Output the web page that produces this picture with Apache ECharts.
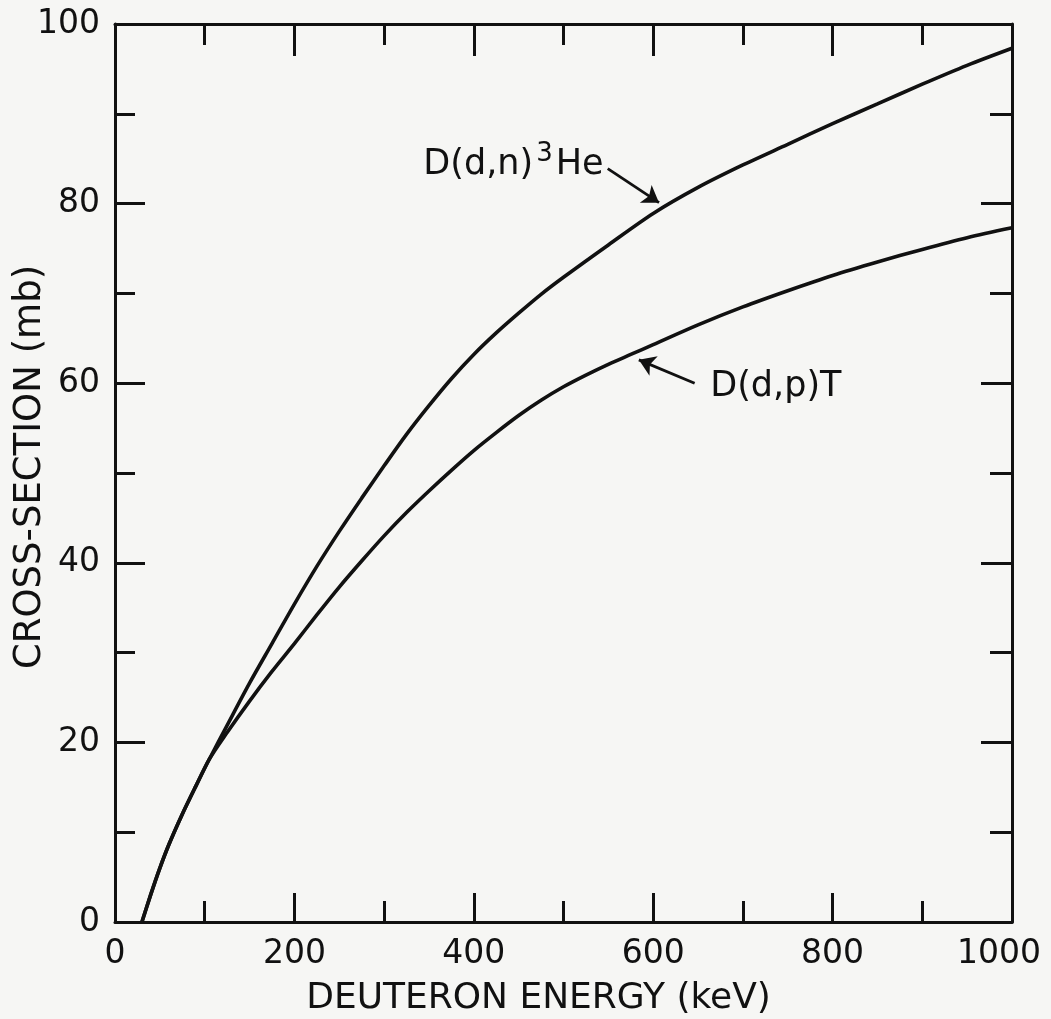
<!DOCTYPE html>
<html>
<head>
<meta charset="utf-8">
<script src="https://cdn.jsdelivr.net/npm/echarts@6/dist/echarts.min.js"></script>
<style>
html,body{margin:0;padding:0;background:#f6f6f4;}
#chart{width:1051px;height:1019px;}
</style>
</head>
<body>
<div id="chart"></div>
<script>
// Deuteron energy (keV) and cross sections (mb)
var energyDN = [30,40,50,60,75,90,105,125,150,175,200,225,250,275,300,325,350,375,400,425,450,475,500,550,600,650,700,750,800,850,900,950,1000];
var sigmaDN  = [0,3.1,6.0,8.6,12.0,15.1,18.1,21.9,26.6,31.0,35.4,39.6,43.5,47.2,50.8,54.3,57.5,60.5,63.2,65.6,67.8,69.9,71.8,75.4,78.9,81.8,84.3,86.6,88.9,91.1,93.3,95.4,97.3];

var energyDP = [30,40,50,60,75,90,105,125,150,175,200,225,250,275,300,325,350,375,400,425,450,475,500,525,550,575,600,650,700,750,800,850,900,950,1000];
var sigmaDP  = [0,3.1,6.0,8.6,12.0,15.1,18.1,21.1,24.6,27.9,31.0,34.2,37.3,40.2,43.0,45.6,48.0,50.3,52.5,54.5,56.4,58.1,59.6,60.9,62.1,63.2,64.3,66.5,68.5,70.3,72.0,73.5,74.9,76.2,77.3];

var xTicks = [0,200,400,600,800,1000];
var yTicks = [0,20,40,60,80,100];

var seriesNames = ['D(d,n)3He','D(d,p)T'];
// annotation anchors in data units [keV, mb]
var labelDN = [343.2, 84.3];
var labelDP = [663.0, 59.6];
var arrowDN = [[549.3, 83.9],[606.5, 80.1]];
var arrowDP = [[646.2, 60.0],[584.0, 62.6]];

function zip(a,b){return a.map(function(v,i){return [v,b[i]];});}

var FONT = 'DejaVu Sans';
var INK = '#111111';

var chart = echarts.init(document.getElementById('chart'), null, {renderer:'canvas'});

function xAx(pos, showLabels){
  return {
    type:'value', position:pos, min:0, max:1000, interval:200,
    axisLine:{show:true, onZero:false, lineStyle:{color:INK, width:3}},
    axisTick:{show:true, inside:true, length: pos==='top'?32:29, lineStyle:{color:INK, width:3}},
    minorTick:{show:true, splitNumber:2, length:21, lineStyle:{color:INK, width:3}},
    splitLine:{show:false}, minorSplitLine:{show:false},
    axisLabel:{show:showLabels, fontFamily:FONT, fontSize:33, color:INK, margin:16,
      formatter:function(v){ return v===1000 ? '{r|1000}' : String(v); },
      rich:{r:{fontFamily:FONT, fontSize:33, color:INK, padding:[0,26,0,0]}}},
    name: showLabels ? 'DEUTERON ENERGY (keV)' : '',
    nameLocation:'middle', nameGap:59,
    nameTextStyle:{fontFamily:FONT, fontSize:36, color:INK, padding:[0,50,0,0]}
  };
}
function yAx(pos, showLabels){
  return {
    type:'value', position:pos, min:0, max:100, interval:20,
    axisLine:{show:true, onZero:false, lineStyle:{color:INK, width:3}},
    axisTick:{show:true, inside:true, length: pos==='right'?31:30, lineStyle:{color:INK, width:3}},
    minorTick:{show:true, splitNumber:2, length: pos==='right'?22:20, lineStyle:{color:INK, width:3}},
    splitLine:{show:false}, minorSplitLine:{show:false},
    axisLabel:{show:showLabels, fontFamily:FONT, fontSize:33, color:INK, margin:15},
    name: showLabels ? 'CROSS-SECTION (mb)' : '',
    nameLocation:'middle', nameGap:66, nameMoveOverlap:false,
    nameTextStyle:{fontFamily:FONT, fontSize:37, color:INK, padding:[0,0,0,12]}
  };
}

var option = {
  backgroundColor:'#f6f6f4',
  animation:false,
  grid:{left:115, top:24, width:897, height:898, containLabel:false, outerBoundsMode:'none'},
  xAxis:[xAx('bottom', true), xAx('top', false)],
  yAxis:[yAx('left', true), yAx('right', false)],
  series:[
    {
      name:seriesNames[0], type:'line', xAxisIndex:0, yAxisIndex:0,
      data: zip(energyDN, sigmaDN), showSymbol:false, smooth:0.3,
      lineStyle:{color:INK, width:3.6},
      markLine:{
        silent:true, symbol:['none','arrow'], symbolSize:16,
        itemStyle:{color:INK},
        lineStyle:{color:INK, width:2.8, type:'solid'}, label:{show:false},
        data:[[{coord:arrowDN[0]},{coord:arrowDN[1]}],[{coord:arrowDP[0]},{coord:arrowDP[1]}]]
      },
      markPoint:{
        silent:true, symbol:'circle', symbolSize:1, itemStyle:{color:'rgba(0,0,0,0)'},
        data:[
          {coord:labelDN, label:{show:true, position:'right', distance:0, fontFamily:FONT, fontSize:35, color:INK,
            formatter:'D(d,n){s|3}He',
            rich:{s:{fontFamily:FONT, fontSize:26, color:INK, padding:[0,3,22,3]}}}},
          {coord:labelDP, label:{show:true, position:'right', distance:0, fontFamily:FONT, fontSize:35, color:INK,
            formatter:'D(d,p)T'}}
        ]
      }
    },
    {
      name:seriesNames[1], type:'line', xAxisIndex:0, yAxisIndex:0,
      data: zip(energyDP, sigmaDP), showSymbol:false, smooth:0.3,
      lineStyle:{color:INK, width:3.6}
    }
  ]
};
chart.setOption(option);
</script>
</body>
</html>
